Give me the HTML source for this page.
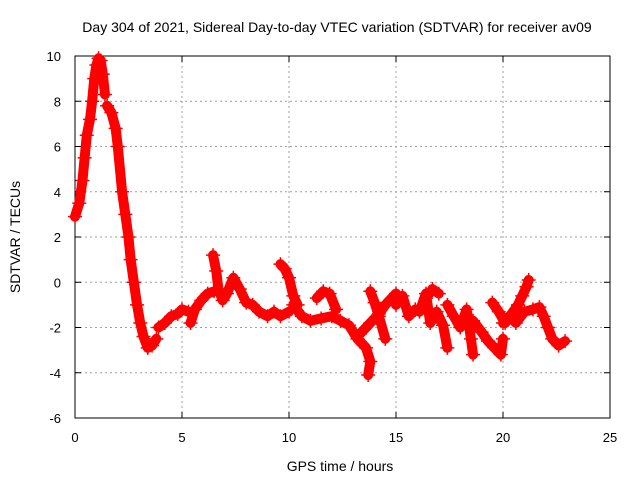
<!DOCTYPE html>
<html><head><meta charset="utf-8"><style>body{margin:0;background:#fff}svg{display:block;font-family:"Liberation Sans",sans-serif}</style></head>
<body>
<svg id="chart" width="640" height="480" viewBox="0 0 640 480" xmlns="http://www.w3.org/2000/svg">
<text x="337" y="32" font-size="14" text-anchor="middle">Day 304 of 2021, Sidereal Day-to-day VTEC variation (SDTVAR) for receiver av09</text>
<text x="340" y="471" font-size="14" text-anchor="middle">GPS time / hours</text>
<text transform="translate(20,237) rotate(-90)" font-size="14" text-anchor="middle">SDTVAR / TECUs</text>
<g id="grid"></g><g id="axes"></g><g id="marks"></g>
</svg>
<script>
const xTicks=[0,5,10,15,20,25];
const yTicks=[-6,-4,-2,0,2,4,6,8,10];
const arcT1=[0,0.2,0.35,0.45,0.55,0.7,0.8,0.9,1.0,1.1,1.2,1.3,1.4];
const arcV1=[2.9,3.5,4.5,5.5,6.5,7.2,8,9,9.6,9.9,9.8,9.2,8.3];
const arcT2=[1.5,1.7,1.9,2.0,2.2,2.35,2.5,2.6,2.75,2.9,3.05,3.2,3.4,3.6,3.8];
const arcV2=[7.8,7.5,6.8,6,4,3,2,1,0,-1,-1.8,-2.4,-2.9,-2.8,-2.5];
const arcT3=[3.9,4.2,4.5,4.8,5.0,5.3];
const arcV3=[-2,-1.8,-1.5,-1.4,-1.2,-1.3];
const arcT4=[5.4,5.6,5.9,6.2,6.5];
const arcV4=[-1.8,-1.2,-0.8,-0.5,-0.4];
const arcT5=[6.45,6.6,6.7,6.9,7.1,7.4,7.7,8.0,8.3,8.6,9.0,9.3,9.6,10.0];
const arcV5=[1.2,0.5,-0.3,-0.8,-0.5,0.2,-0.3,-0.9,-1.0,-1.3,-1.5,-1.3,-1.5,-1.3];
const arcT6=[9.6,9.8,10.0,10.2,10.4];
const arcV6=[0.8,0.6,0.2,-0.6,-1.0];
const arcT7=[10.2,10.6,11.0,11.5,12.0,12.4,12.8,13.2,13.6,13.8,13.7];
const arcV7=[-1.0,-1.5,-1.7,-1.6,-1.5,-1.7,-1.9,-2.5,-2.9,-3.5,-4.1];
const arcT8=[11.3,11.6,11.9,12.2];
const arcV8=[-0.7,-0.4,-0.5,-1.2];
const arcT9=[13.3,13.8,14.2,14.5,15.0];
const arcV9=[-2.3,-1.8,-1.4,-1.0,-0.5];
const arcT10=[13.8,14.0,14.2,14.5];
const arcV10=[-0.4,-0.9,-1.5,-2.5];
const arcT11=[15.0,15.3,15.6,15.9,16.1,16.4,16.6,16.9,17.2,17.4];
const arcV11=[-1.0,-0.6,-1.5,-1.2,-1.3,-0.5,-1.8,-1.3,-1.9,-2.9];
const arcT12=[16.4,16.7,17.0];
const arcV12=[-0.7,-0.3,-0.5];
const arcT13=[17.4,17.7,18.0,18.3,18.5,18.6];
const arcV13=[-1.0,-1.5,-2.0,-1.2,-2.5,-3.2];
const arcT14=[18.6,19.0,19.3,19.6,19.9,20.0];
const arcV14=[-1.7,-2.2,-2.6,-2.9,-3.2,-2.5];
const arcT15=[19.5,19.8,20.1,20.4,20.7,20.9,21.1,21.2];
const arcV15=[-0.9,-1.3,-1.8,-1.4,-1.0,-0.6,-0.2,0.1];
const arcT16=[20.0,20.3,20.6,21.0,21.4,21.7,21.9,22.1,22.3,22.6,22.9];
const arcV16=[-1.8,-1.5,-1.8,-1.3,-1.2,-1.1,-1.5,-2.0,-2.5,-2.8,-2.6];
const arcs=[[arcT1,arcV1],[arcT2,arcV2],[arcT3,arcV3],[arcT4,arcV4],[arcT5,arcV5],[arcT6,arcV6],[arcT7,arcV7],[arcT8,arcV8],[arcT9,arcV9],[arcT10,arcV10],[arcT11,arcV11],[arcT12,arcV12],[arcT13,arcV13],[arcT14,arcV14],[arcT15,arcV15],[arcT16,arcV16]];
const L=75,R=610,T=56,B=418,xMin=0,xMax=25,yMin=-6,yMax=10;
function xs(t){return L+(t-xMin)/(xMax-xMin)*(R-L);}
function ys(v){return B-(v-yMin)/(yMax-yMin)*(B-T);}
const NS='http://www.w3.org/2000/svg';
function mk(tag,attrs,parent){const e=document.createElementNS(NS,tag);for(const k in attrs)e.setAttribute(k,attrs[k]);parent.appendChild(e);return e;}
const grid=document.getElementById('grid'),axes=document.getElementById('axes'),marks=document.getElementById('marks');
xTicks.forEach(t=>{const x=xs(t);
 if(t>xMin&&t<xMax){const g=mk('line',{x1:x,x2:x,y1:T,y2:B,stroke:'#a0a0a0','stroke-dasharray':'2,3'},grid);
 
 }
 mk('line',{x1:x,x2:x,y1:B,y2:B-6,stroke:'#000'},axes);mk('line',{x1:x,x2:x,y1:T,y2:T+6,stroke:'#000'},axes);
 const lb=mk('text',{x:x,y:442,'font-size':13,'text-anchor':'middle'},axes);lb.textContent=t;
 
 });
yTicks.forEach(v=>{const y=ys(v);
 if(v>yMin&&v<yMax){const g=mk('line',{x1:L,x2:R,y1:y,y2:y,stroke:'#a0a0a0','stroke-dasharray':'2,3'},grid);
 
 }
 mk('line',{x1:L,x2:L+6,y1:y,y2:y,stroke:'#000'},axes);mk('line',{x1:R,x2:R-6,y1:y,y2:y,stroke:'#000'},axes);
 const lb=mk('text',{x:61,y:y+5,'font-size':13,'text-anchor':'end'},axes);lb.textContent=v;
 
 });
const frame=mk('rect',{x:L,y:T,width:R-L,height:B-T,fill:'none',stroke:'#000'},axes);


arcs.forEach(([ts,vs])=>{
 const pts=ts.map((t,i)=>xs(t)+','+ys(vs[i])).join(' ');
 const pl=mk('polyline',{points:pts,fill:'none',stroke:'#ff0000','stroke-width':10,'stroke-linejoin':'round','stroke-linecap':'round'},marks);
 
 
 ts.forEach((t,i)=>{const x=xs(t),y=ys(vs[i]);
  const p=mk('path',{d:`M${x-7},${y}H${x+7}M${x},${y-7}V${y+7}`,stroke:'#ff0000','stroke-width':1.5},marks);
  
  });
});
</script>
</body></html>
